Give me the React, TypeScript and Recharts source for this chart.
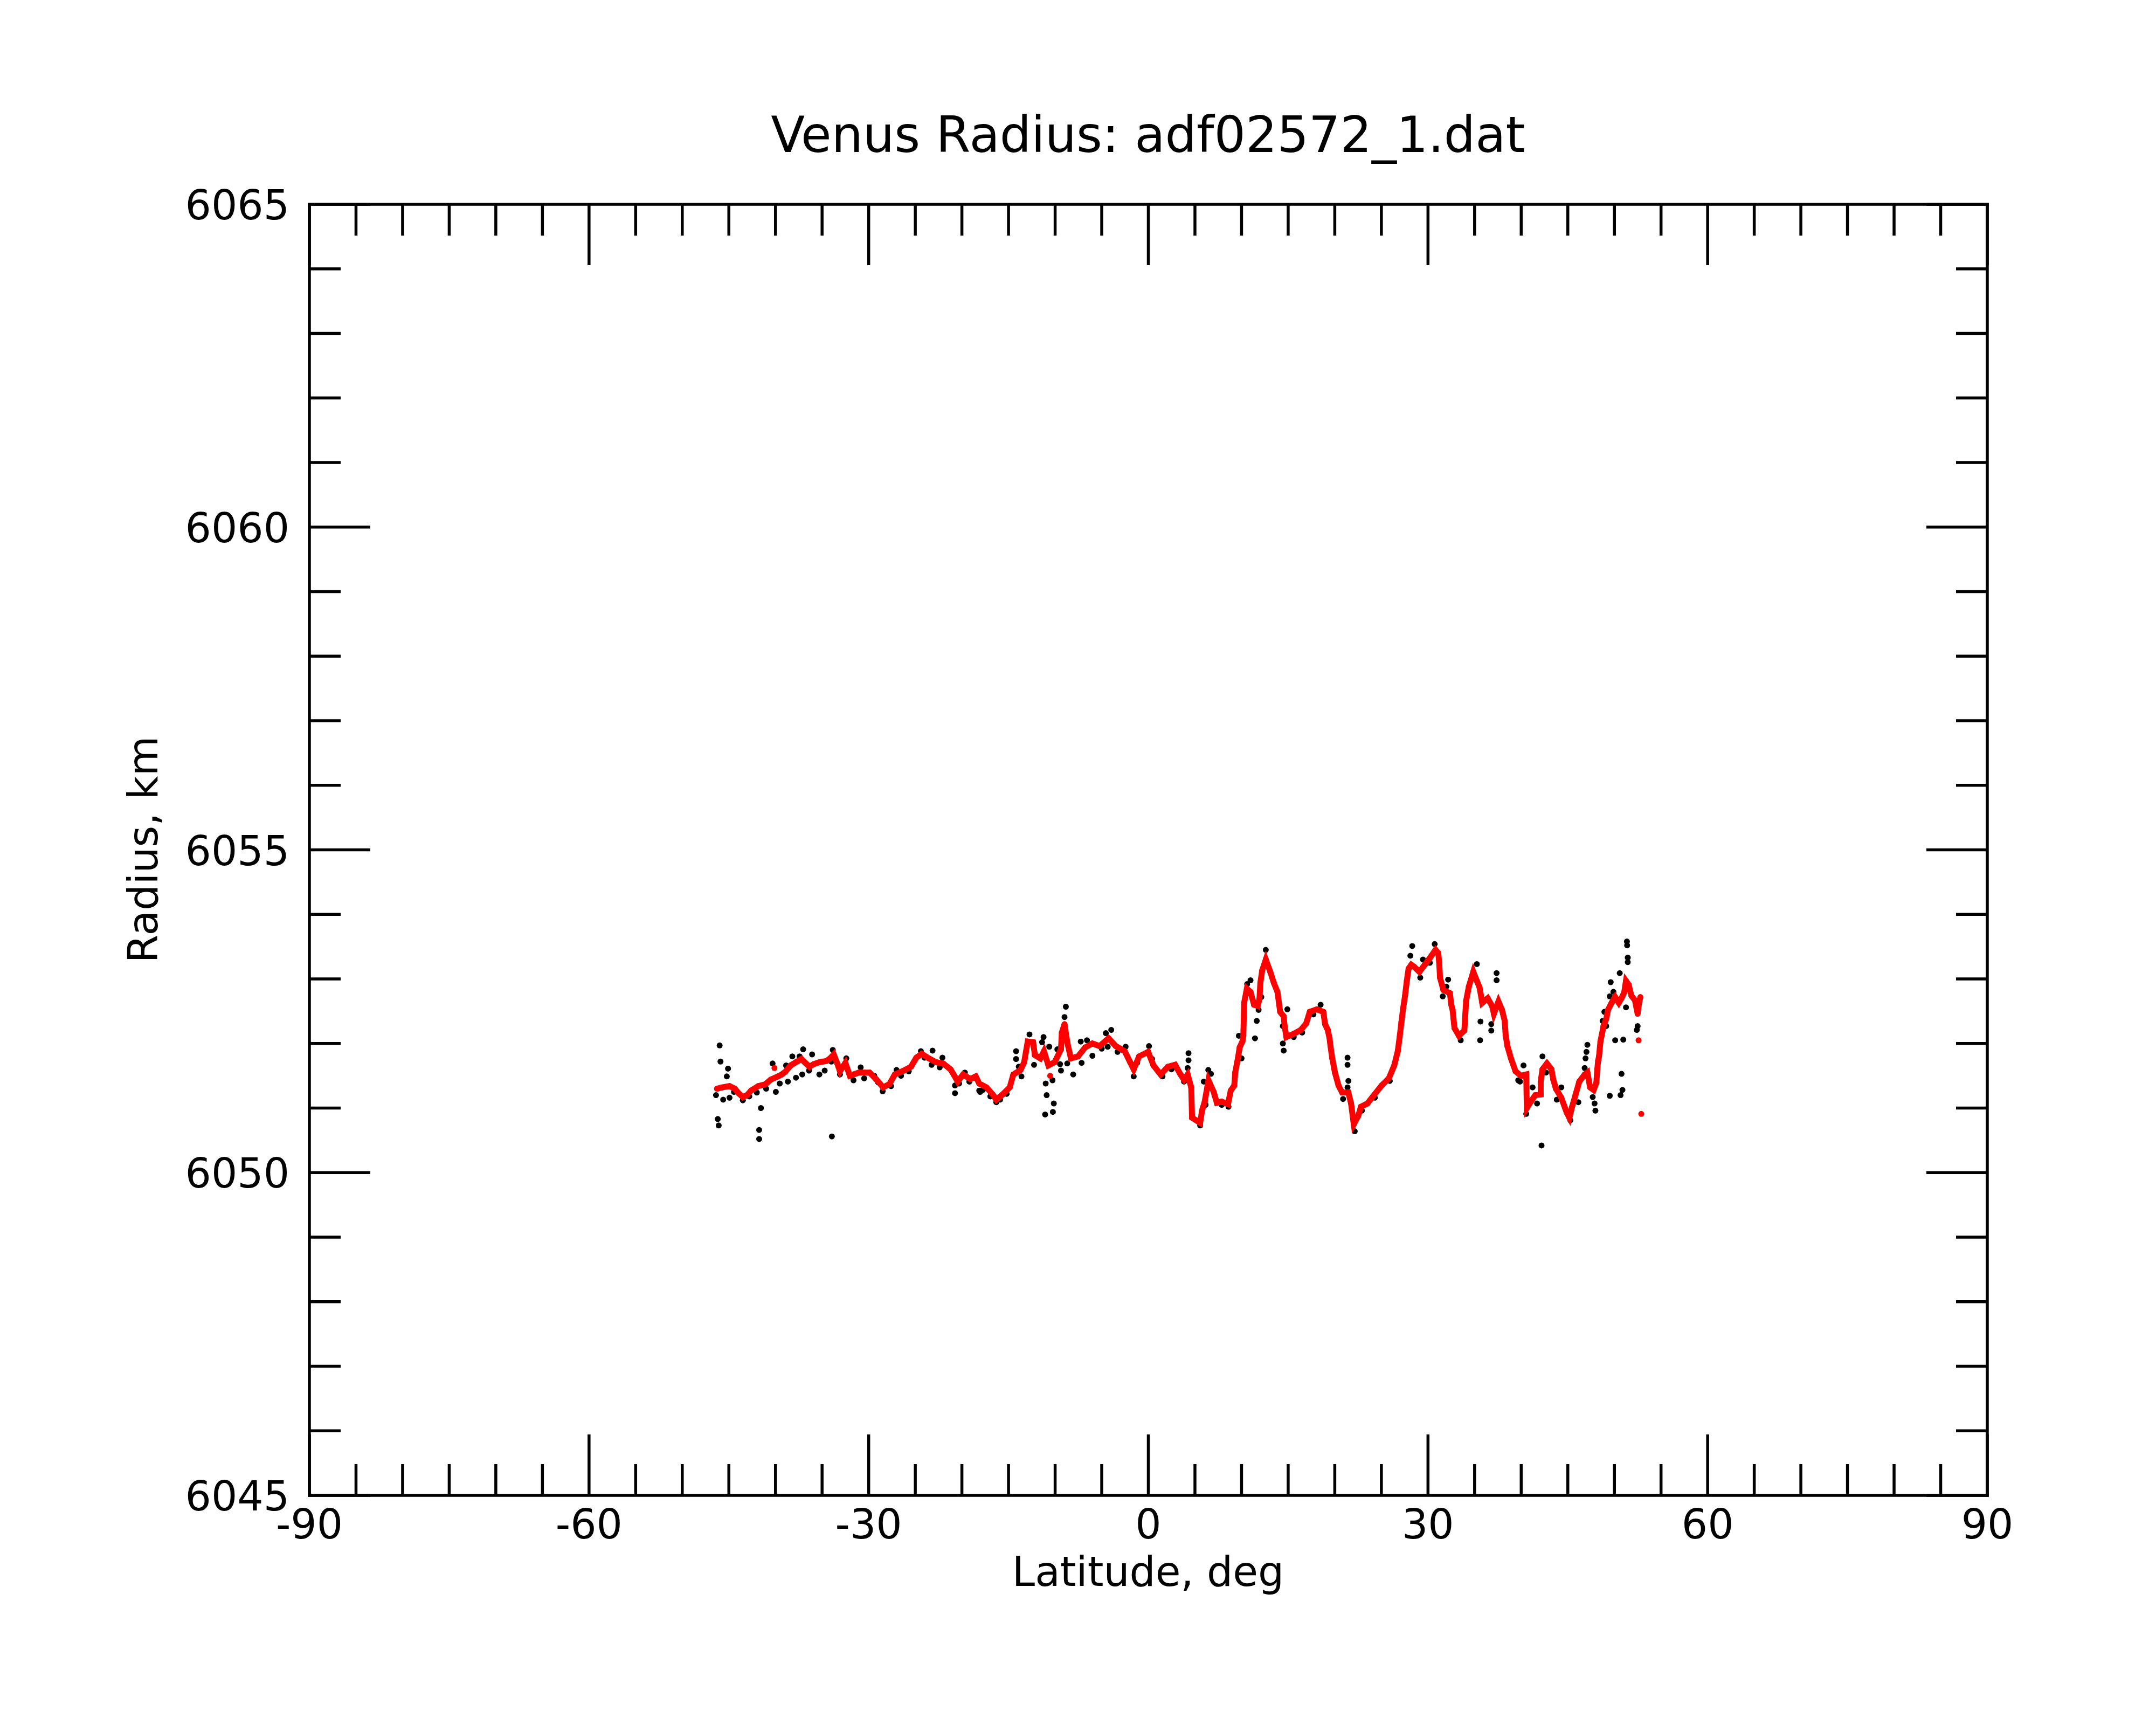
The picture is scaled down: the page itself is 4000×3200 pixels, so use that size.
import React from "react";
import { ScatterChart, Scatter, XAxis, YAxis } from "recharts";

// latitude (deg), radius (km)
const RED_TRACE: [number, number][] = [
  [-46.28, 6051.3], [-45.7, 6051.32], [-44.93, 6051.34], [-44.35, 6051.3], [-43.97, 6051.23],
  [-43.49, 6051.17], [-43.05, 6051.2], [-42.62, 6051.27], [-41.85, 6051.34], [-41.08, 6051.37],
  [-40.5, 6051.44], [-39.73, 6051.49], [-39.34, 6051.52], [-38.96, 6051.56], [-38.38, 6051.66],
  [-37.8, 6051.71], [-37.22, 6051.76], [-36.8, 6051.7], [-36.35, 6051.64], [-35.9, 6051.68],
  [-35.29, 6051.71], [-34.52, 6051.73], [-34.14, 6051.77], [-33.75, 6051.83], [-33.37, 6051.69],
  [-33.08, 6051.57], [-32.5, 6051.7], [-32.02, 6051.5], [-31.63, 6051.52], [-31.05, 6051.55],
  [-30.48, 6051.55], [-29.9, 6051.55], [-29.22, 6051.45], [-28.45, 6051.32], [-27.78, 6051.37],
  [-27.2, 6051.52], [-26.24, 6051.58], [-25.46, 6051.64], [-24.89, 6051.78], [-24.31, 6051.84],
  [-23.54, 6051.77], [-22.77, 6051.71], [-22.0, 6051.69], [-21.22, 6051.6], [-20.64, 6051.46],
  [-20.45, 6051.41], [-19.87, 6051.52], [-19.1, 6051.45], [-18.52, 6051.49], [-18.14, 6051.38],
  [-17.37, 6051.32], [-16.69, 6051.21], [-16.31, 6051.13], [-15.64, 6051.21], [-14.87, 6051.32],
  [-14.48, 6051.52], [-13.71, 6051.59], [-13.32, 6051.71], [-12.94, 6052.03], [-12.36, 6052.02],
  [-12.17, 6051.82], [-11.59, 6051.77], [-11.2, 6051.88], [-10.72, 6051.66], [-10.05, 6051.71],
  [-9.37, 6051.91], [-9.28, 6052.17], [-8.99, 6052.3], [-8.7, 6052.02], [-8.31, 6051.77],
  [-7.54, 6051.8], [-6.77, 6051.94], [-6.0, 6052.0], [-5.23, 6051.96], [-4.27, 6052.08],
  [-3.49, 6051.96], [-2.53, 6051.88], [-1.95, 6051.71], [-1.57, 6051.6], [-0.99, 6051.8],
  [-0.02, 6051.87], [0.55, 6051.66], [1.32, 6051.52], [2.1, 6051.64], [2.87, 6051.67],
  [3.45, 6051.52], [3.83, 6051.44], [4.22, 6051.52], [4.6, 6051.32], [4.69, 6050.85],
  [5.56, 6050.77], [5.76, 6050.96], [6.05, 6051.1], [6.45, 6051.43], [7.01, 6051.25],
  [7.35, 6051.08], [7.87, 6051.1], [8.55, 6051.06], [8.84, 6051.27], [9.22, 6051.35],
  [9.32, 6051.55], [9.61, 6051.77], [9.8, 6051.94], [10.09, 6052.03], [10.19, 6052.12],
  [10.28, 6052.63], [10.57, 6052.85], [10.96, 6052.8], [11.34, 6052.6], [11.73, 6052.58],
  [11.92, 6052.69], [12.02, 6052.94], [12.21, 6053.13], [12.6, 6053.3], [13.08, 6053.11],
  [13.46, 6052.94], [13.85, 6052.8], [14.04, 6052.6], [14.14, 6052.49], [14.52, 6052.42],
  [14.62, 6052.27], [14.81, 6052.1], [15.59, 6052.15], [16.36, 6052.21], [16.93, 6052.31],
  [17.32, 6052.49], [18.09, 6052.53], [18.77, 6052.49], [18.96, 6052.3], [19.25, 6052.21],
  [19.44, 6052.08], [19.54, 6051.96], [19.73, 6051.77], [20.02, 6051.55], [20.4, 6051.35],
  [20.79, 6051.24], [21.46, 6051.24], [21.75, 6051.07], [22.04, 6050.75], [22.52, 6050.88],
  [22.81, 6051.02], [23.49, 6051.07], [24.26, 6051.21], [25.03, 6051.35], [25.8, 6051.46],
  [26.38, 6051.66], [26.76, 6051.88], [26.96, 6052.1], [27.15, 6052.33], [27.34, 6052.55],
  [27.54, 6052.74], [27.73, 6052.97], [27.92, 6053.16], [28.21, 6053.22], [28.5, 6053.19],
  [29.08, 6053.11], [29.66, 6053.22], [30.23, 6053.33], [30.81, 6053.45], [31.1, 6053.4],
  [31.2, 6053.26], [31.29, 6053.02], [31.65, 6052.83], [32.35, 6052.78], [32.5, 6052.6],
  [32.64, 6052.52], [32.74, 6052.38], [32.84, 6052.24], [33.32, 6052.12], [33.9, 6052.2],
  [34.0, 6052.44], [34.09, 6052.66], [34.38, 6052.88], [34.86, 6053.11], [35.24, 6052.97],
  [35.53, 6052.87], [35.82, 6052.63], [36.4, 6052.7], [36.88, 6052.58], [37.07, 6052.46],
  [37.56, 6052.65], [37.94, 6052.52], [38.23, 6052.35], [38.33, 6052.13], [38.52, 6051.96],
  [38.9, 6051.77], [39.39, 6051.57], [39.97, 6051.5], [40.54, 6051.52], [40.6, 6051.0],
  [41.03, 6051.1], [41.51, 6051.2], [42.09, 6051.21], [42.09, 6051.41], [42.28, 6051.6],
  [42.76, 6051.69], [43.24, 6051.6], [43.44, 6051.44], [43.72, 6051.3], [44.3, 6051.16],
  [44.88, 6050.93], [45.17, 6050.85], [45.46, 6051.02], [45.84, 6051.21], [46.23, 6051.41],
  [46.81, 6051.52], [47.1, 6051.55], [47.39, 6051.32], [47.77, 6051.28], [48.06, 6051.39],
  [48.16, 6051.6], [48.25, 6051.73], [48.35, 6051.8], [48.5, 6052.03], [48.64, 6052.13],
  [48.83, 6052.27], [49.12, 6052.38], [49.31, 6052.52], [49.7, 6052.63], [50.08, 6052.72],
  [50.47, 6052.63], [50.76, 6052.7], [51.05, 6052.79], [51.24, 6052.97], [51.53, 6052.91],
  [51.82, 6052.74], [52.2, 6052.67], [52.49, 6052.46], [52.59, 6052.58], [52.78, 6052.72],
];

const RED_LONE: [number, number][] = [
  [-40.11, 6051.62], [-10.53, 6051.5], [52.59, 6052.05], [52.88, 6050.91],
];

const BLACK_POINTS: [number, number][] = [
  [-46.38, 6051.2], [-46.19, 6050.83], [-46.09, 6050.73], [-45.99, 6051.97], [-45.9, 6051.72],
  [-45.61, 6051.13], [-45.22, 6051.49], [-45.09, 6051.61], [-44.93, 6051.16], [-44.45, 6051.25],
  [-43.5, 6051.12], [-42.81, 6051.18], [-42.0, 6051.24], [-41.75, 6050.66], [-41.75, 6050.52],
  [-41.56, 6051.0], [-41.0, 6051.3], [-40.31, 6051.69], [-39.96, 6051.25], [-39.54, 6051.38],
  [-38.86, 6051.66], [-38.67, 6051.41], [-38.19, 6051.8], [-37.8, 6051.47], [-37.41, 6051.8],
  [-37.13, 6051.52], [-37.03, 6051.91], [-36.4, 6051.58], [-36.07, 6051.83], [-35.29, 6051.52],
  [-34.72, 6051.58], [-34.0, 6051.72], [-33.95, 6050.56], [-33.85, 6051.9], [-33.08, 6051.52],
  [-32.4, 6051.77], [-31.63, 6051.43], [-30.86, 6051.63], [-30.48, 6051.46], [-29.4, 6051.5],
  [-29.0, 6051.4], [-28.5, 6051.26], [-27.6, 6051.34], [-27.01, 6051.59], [-26.53, 6051.5],
  [-25.7, 6051.57], [-24.4, 6051.88], [-24.0, 6051.78], [-23.25, 6051.67], [-23.15, 6051.89],
  [-22.38, 6051.63], [-22.09, 6051.78], [-20.74, 6051.35], [-20.74, 6051.23], [-20.3, 6051.38],
  [-19.68, 6051.55], [-19.2, 6051.41], [-18.14, 6051.27], [-18.04, 6051.25], [-17.75, 6051.28],
  [-16.95, 6051.18], [-16.31, 6051.09], [-15.9, 6051.13], [-15.2, 6051.22], [-14.19, 6051.88],
  [-14.19, 6051.76], [-13.9, 6051.64], [-13.61, 6051.49], [-12.75, 6052.14], [-12.26, 6051.67],
  [-11.4, 6052.02], [-11.24, 6052.1], [-11.07, 6050.9], [-11.01, 6051.38], [-10.91, 6051.2],
  [-10.63, 6051.95], [-10.28, 6051.43], [-10.24, 6050.94], [-10.14, 6051.07], [-9.76, 6051.91],
  [-9.47, 6051.68], [-9.37, 6051.58], [-8.99, 6052.41], [-8.85, 6052.57], [-8.7, 6051.69],
  [-8.06, 6051.52], [-7.25, 6052.03], [-7.16, 6051.7], [-6.58, 6052.05], [-6.0, 6051.81],
  [-5.0, 6051.92], [-4.56, 6052.16], [-4.36, 6051.95], [-3.98, 6052.21], [-3.3, 6051.87],
  [-2.44, 6051.95], [-1.57, 6051.49], [-1.2, 6051.7], [0.07, 6051.96], [0.4, 6051.76],
  [1.52, 6051.49], [2.48, 6051.6], [3.83, 6051.41], [4.22, 6051.62], [4.31, 6051.74],
  [4.31, 6051.85], [5.56, 6050.73], [5.95, 6051.41], [6.14, 6051.05], [6.43, 6051.59],
  [6.72, 6051.53], [7.1, 6051.2], [7.88, 6051.05], [8.6, 6051.02], [9.71, 6052.12],
  [10.0, 6051.77], [10.6, 6052.92], [10.96, 6052.98], [11.44, 6052.08], [11.63, 6052.35],
  [11.83, 6052.52], [12.12, 6052.72], [12.6, 6053.45], [14.43, 6052.27], [14.43, 6052.0],
  [14.52, 6051.89], [14.91, 6052.53], [15.6, 6052.1], [16.5, 6052.17], [17.71, 6052.45],
  [18.48, 6052.6], [20.89, 6051.14], [21.37, 6051.32], [21.37, 6051.67], [21.37, 6051.78],
  [21.46, 6051.42], [22.14, 6050.64], [22.91, 6050.96], [24.3, 6051.16], [25.9, 6051.42],
  [28.11, 6053.36], [28.31, 6053.51], [29.17, 6053.02], [29.46, 6053.3], [30.2, 6053.25],
  [30.72, 6053.54], [31.58, 6052.73], [31.97, 6052.88], [32.16, 6052.99], [33.51, 6052.05],
  [35.24, 6053.23], [35.59, 6052.05], [35.63, 6052.34], [36.79, 6052.2], [36.79, 6052.3],
  [37.36, 6053.09], [37.36, 6052.98], [39.68, 6051.43], [39.87, 6051.41], [40.25, 6051.66],
  [40.54, 6050.91], [41.22, 6051.32], [41.7, 6051.07], [42.18, 6050.42], [42.28, 6051.8],
  [42.66, 6051.55], [43.82, 6051.13], [44.3, 6051.32], [45.27, 6050.81], [46.13, 6051.09],
  [46.81, 6051.62], [46.9, 6051.77], [47.0, 6051.87], [47.1, 6051.98], [47.67, 6051.17],
  [47.87, 6051.07], [47.96, 6050.96], [48.73, 6052.35], [48.92, 6052.49], [49.12, 6052.27],
  [49.5, 6051.19], [49.5, 6052.73], [49.6, 6052.95], [49.89, 6052.8], [50.08, 6052.05],
  [50.57, 6053.09], [50.66, 6051.2], [50.76, 6051.53], [50.86, 6051.28], [50.95, 6052.06],
  [51.24, 6052.56], [51.34, 6053.58], [51.36, 6053.52], [51.43, 6053.33], [51.43, 6053.26],
  [52.4, 6052.21], [52.49, 6052.27],
];

const X_TICKS = [-90, -85, -80, -75, -70, -65, -60, -55, -50, -45, -40, -35, -30, -25, -20, -15, -10, -5, 0, 5, 10, 15, 20, 25, 30, 35, 40, 45, 50, 55, 60, 65, 70, 75, 80, 85, 90];
const X_LABELS = [-90, -60, -30, 0, 30, 60, 90];
const Y_TICKS = [6045, 6046, 6047, 6048, 6049, 6050, 6051, 6052, 6053, 6054, 6055, 6056, 6057, 6058, 6059, 6060, 6061, 6062, 6063, 6064, 6065];
const Y_LABELS = [6045, 6050, 6055, 6060, 6065];

const toRows = (pts: [number, number][]) => pts.map(([lat, r]) => ({ lat, r }));

const FONT = "'DejaVu Sans', sans-serif";
const LW = 5.5;
const MAJOR = 113;
const MINOR = 58;
const W = 4000;
const H = 3200;
const MARGIN = { top: 378, right: 312, bottom: 425, left: 573 };
// plot box height: chart height minus margins and the 1px top/bottom axis strips
const PLOT_H = H - MARGIN.top - MARGIN.bottom - 2;

// ticks for the bottom edge and, mirrored, the top edge of the frame
const XTick = (p: any) => {
  const v = p.payload.value;
  const major = X_LABELS.includes(v);
  const len = major ? MAJOR : MINOR;
  const top = p.y - PLOT_H;
  return (
    <g>
      <line x1={p.x} y1={p.y} x2={p.x} y2={p.y - len} stroke="#000" strokeWidth={LW} />
      <line x1={p.x} y1={top} x2={p.x} y2={top + len} stroke="#000" strokeWidth={LW} />
      {major && (
        <text x={p.x} y={p.y + 80} textAnchor="middle" fontSize={76} fontFamily={FONT} fill="#000">
          {v}
        </text>
      )}
    </g>
  );
};

const LeftTick = (p: any) => {
  const v = p.payload.value;
  const major = Y_LABELS.includes(v);
  return (
    <g>
      <line x1={p.x} y1={p.y} x2={p.x + (major ? MAJOR : MINOR)} y2={p.y} stroke="#000" strokeWidth={LW} />
      {major && (
        <text x={p.x - 37} y={p.y + 28} textAnchor="end" fontSize={76} fontFamily={FONT} fill="#000">
          {v}
        </text>
      )}
    </g>
  );
};

const RightTick = (p: any) => {
  const major = Y_LABELS.includes(p.payload.value);
  return <line x1={p.x} y1={p.y} x2={p.x - (major ? MAJOR : MINOR)} y2={p.y} stroke="#000" strokeWidth={LW} />;
};

const BlackDot = (p: any) => <circle cx={p.cx} cy={p.cy} r={5.5} fill="#000" />;
const RedDot = (p: any) => <circle cx={p.cx} cy={p.cy} r={5.5} fill="#ff0000" />;

const axisLine = { stroke: "#000", strokeWidth: LW, strokeLinecap: "square" as const };

export default function App() {
  return (
    <div style={{ position: "absolute", left: 0, top: 0, width: W, height: H, background: "#fff" }}>
      <ScatterChart width={W} height={H} margin={MARGIN}>
        <XAxis
          xAxisId="bottom"
          dataKey="lat"
          type="number"
          domain={[-90, 90]}
          allowDataOverflow
          ticks={X_TICKS}
          interval={0}
          height={1}
          tickSize={0}
          tickMargin={0}
          axisLine={axisLine}
          tickLine={false}
          tick={XTick}
        />
        <XAxis
          xAxisId="top"
          orientation="top"
          type="number"
          domain={[-90, 90]}
          allowDataOverflow
          ticks={X_TICKS}
          interval={0}
          height={1}
          axisLine={axisLine}
          tickLine={false}
          tick={false}
        />
        <YAxis
          yAxisId="left"
          dataKey="r"
          type="number"
          domain={[6045, 6065]}
          allowDataOverflow
          ticks={Y_TICKS}
          interval={0}
          width={1}
          tickSize={0}
          tickMargin={0}
          axisLine={axisLine}
          tickLine={false}
          tick={LeftTick}
        />
        <YAxis
          yAxisId="right"
          orientation="right"
          type="number"
          domain={[6045, 6065]}
          allowDataOverflow
          ticks={Y_TICKS}
          interval={0}
          width={1}
          tickSize={0}
          tickMargin={0}
          axisLine={axisLine}
          tickLine={false}
          tick={RightTick}
        />
        <Scatter xAxisId="bottom" yAxisId="left" data={toRows(BLACK_POINTS)} shape={BlackDot} isAnimationActive={false} />
        <Scatter
          xAxisId="bottom"
          yAxisId="left"
          data={toRows(RED_TRACE)}
          shape={RedDot}
          line={{ stroke: "#ff0000", strokeWidth: 11 }}
          lineType="joint"
          isAnimationActive={false}
        />
        <Scatter xAxisId="bottom" yAxisId="left" data={toRows(RED_LONE)} shape={RedDot} isAnimationActive={false} />
      </ScatterChart>
      <svg width={W} height={H} style={{ position: "absolute", left: 0, top: 0, pointerEvents: "none" }}>
        <text x={2130} y={282} textAnchor="middle" fontSize={92} fontFamily={FONT} fill="#000">
          Venus Radius: adf02572_1.dat
        </text>
        <text x={2130} y={2942} textAnchor="middle" fontSize={76} fontFamily={FONT} fill="#000">
          Latitude, deg
        </text>
        <text x={292} y={1576} transform="rotate(-90 292 1576)" textAnchor="middle" fontSize={76} fontFamily={FONT} fill="#000">
          Radius, km
        </text>
      </svg>
    </div>
  );
}
